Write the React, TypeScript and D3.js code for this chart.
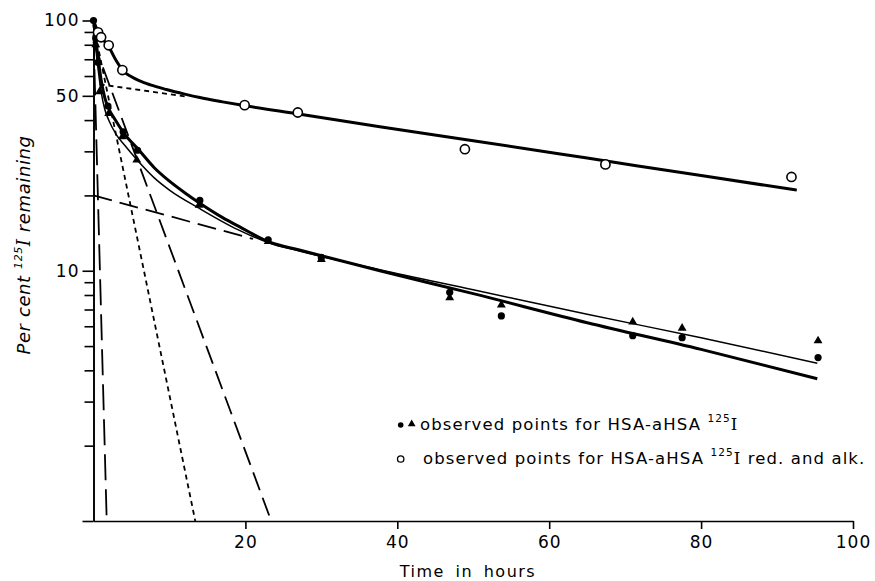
import React, { useEffect, useRef } from "react";
import * as d3 from "d3";

// Observed points: [hours, per cent remaining]
const dotPoints: [number, number][] = [
  [0, 100], [0.3, 85], [0.6, 68], [1.9, 45.5], [3.9, 35.9], [5.8, 30.3],
  [14, 19.1], [23, 13.3], [30, 11.3], [46.9, 8.2], [53.7, 6.6],
  [71, 5.5], [77.5, 5.4], [95.4, 4.5],
];
const trianglePoints: [number, number][] = [
  [0.3, 80], [0.8, 52], [2, 42.5], [3.8, 34.3], [5.7, 27.7], [13.9, 18.3],
  [23, 13.1], [30, 11.1], [46.9, 7.8], [53.7, 7.3], [71, 6.25],
  [77.5, 5.9], [95.4, 5.25],
];
const circlePoints: [number, number][] = [
  [0.6, 89.7], [1.0, 85.7], [2.0, 79.6], [3.8, 63.4], [19.9, 45.9],
  [26.9, 42.9], [48.9, 30.6], [67.4, 26.6], [91.9, 23.7],
];

// Fitted curves
const circleCurve: [number, number][] = [
  [0, 100], [0.6, 90], [1.2, 84.5], [2, 78.5], [3, 69], [4, 62.5], [5, 59.6],
  [6, 57.5], [7.5, 55.3], [9.6, 53.0], [12, 50.8], [14, 49.2], [17, 47.3],
  [20, 45.6], [27, 42.3], [37.7, 37.6], [50, 33.1], [65, 28.2], [80, 24.0],
  [92.6, 21.0],
];
const dotCurve: [number, number][] = [
  [0, 100], [0.5, 75], [1, 58], [1.5, 49], [2, 44.5], [3, 39.5], [4, 35.5],
  [6, 30.3], [8, 25.8], [10, 22.8], [12.1, 20.4], [14, 18.6], [17, 16.3],
  [19.2, 15], [23.2, 13.0], [27.1, 12.1], [37.7, 10], [50, 8.1], [65, 6.2],
  [80, 4.85], [95.3, 3.7],
];
const triangleCurve: [number, number][] = [
  [0, 95], [0.5, 68], [1, 52], [1.5, 44], [2, 40], [3, 35], [4, 32],
  [5.75, 27.7], [8, 23.5], [10, 21], [14, 17.7], [19, 14.6], [23.2, 12.9],
  [27.1, 12.0], [37.7, 10.1], [50, 8.4], [65, 6.7], [80, 5.4], [95.3, 4.27],
];

// Component lines (straight on the log scale)
const circleSlowLine: [number, number][] = [[0.8, 55.6], [12, 49.8]];
const circleFastLine: [number, number][] = [[0, 96], [13.4, 1]];
const dotSlowLine: [number, number][] = [[0, 20], [21, 13.4]];
const dotFastLine: [number, number][] = [[0, 82], [23.4, 1]];
const dotVeryFastLine: [number, number][] = [[0, 88], [1.74, 1]];

const xTicks = [20, 40, 60, 80, 100];
const yMajorTicks = [1, 10, 50, 100];
const yMinorTicks = [2, 3, 4, 5, 6, 7, 8, 9, 20, 30, 40, 60, 70, 80, 90];

const FONT = "'DejaVu Sans', sans-serif";

const App = () => {
  const svgRef = useRef<SVGSVGElement>(null);

  useEffect(() => {
    document.body.style.margin = "0";
    const svg = d3.select(svgRef.current);
    svg.selectAll("*").remove();

    const xScale = d3.scaleLinear().domain([0, 100]).range([93.5, 853]);
    const yScale = d3.scaleLog().domain([1, 100]).range([521, 20.5]);

    // y axis: minor ticks, then labelled ticks
    const yMinor = svg.append("g").attr("transform", `translate(${xScale(0)},0)`)
      .call(d3.axisLeft(yScale).tickValues(yMinorTicks).tickSize(9).tickSizeOuter(0).tickFormat(() => ""));
    const yMajor = svg.append("g").attr("transform", `translate(${xScale(0)},0)`)
      .call(
        d3.axisLeft(yScale).tickValues(yMajorTicks).tickSize(11).tickSizeOuter(0).tickPadding(3)
          .tickFormat((d) => (d === 1 ? "" : String(d)))
      );
    const xAxis = svg.append("g").attr("transform", `translate(0,${yScale(1)})`)
      .call(d3.axisBottom(xScale).tickValues(xTicks).tickSize(8).tickSizeOuter(0).tickPadding(7));

    [yMinor, yMajor, xAxis].forEach((g) => {
      g.selectAll("path, line").attr("stroke", "#000").attr("stroke-width", 1.6);
      g.selectAll("text").attr("font-family", FONT).attr("font-size", 17).attr("letter-spacing", 1).attr("fill", "#000");
    });

    const line = d3.line<[number, number]>().x((d) => xScale(d[0])).y((d) => yScale(d[1]));
    const smooth = d3.line<[number, number]>().x((d) => xScale(d[0])).y((d) => yScale(d[1])).curve(d3.curveMonotoneX);

    const plot = svg.append("g").attr("fill", "none").attr("stroke", "#000");

    // dashed component lines
    [circleSlowLine, circleFastLine].forEach((d) =>
      plot.append("path").attr("d", line(d)).attr("stroke-width", 1.8).attr("stroke-dasharray", "5,4")
    );
    plot.append("path").attr("d", line(dotSlowLine)).attr("stroke-width", 1.8).attr("stroke-dasharray", "19,8");
    plot.append("path").attr("d", line(dotFastLine)).attr("stroke-width", 1.8).attr("stroke-dasharray", "19,8");
    plot.append("path").attr("d", line(dotVeryFastLine)).attr("stroke-width", 1.8).attr("stroke-dasharray", "26,9");

    // fitted curves
    plot.append("path").attr("d", smooth(circleCurve)).attr("stroke-width", 3);
    plot.append("path").attr("d", smooth(dotCurve)).attr("stroke-width", 3);
    plot.append("path").attr("d", smooth(triangleCurve)).attr("stroke-width", 1.5);

    // markers
    const tri = d3.symbol().type(d3.symbolTriangle).size(34);
    svg.append("g").selectAll("path").data(trianglePoints).enter().append("path")
      .attr("d", tri).attr("transform", (d) => `translate(${xScale(d[0])},${yScale(d[1])})`).attr("fill", "#000");
    svg.append("g").selectAll("circle").data(dotPoints).enter().append("circle")
      .attr("cx", (d) => xScale(d[0])).attr("cy", (d) => yScale(d[1])).attr("r", 3.6).attr("fill", "#000");
    svg.append("g").selectAll("circle").data(circlePoints).enter().append("circle")
      .attr("cx", (d) => xScale(d[0])).attr("cy", (d) => yScale(d[1])).attr("r", 4.6)
      .attr("fill", "#fff").attr("stroke", "#000").attr("stroke-width", 1.6);

    // axis titles
    svg.append("text").attr("x", 468).attr("y", 577).attr("text-anchor", "middle")
      .attr("font-family", FONT).attr("font-size", 16).attr("letter-spacing", 1.5).attr("word-spacing", 4)
      .text("Time in hours");

    const yTitle = svg.append("text").attr("transform", "translate(30,245) rotate(-90)").attr("text-anchor", "middle")
      .attr("font-family", FONT).attr("font-size", 18).attr("font-style", "italic").attr("letter-spacing", 0.6);
    yTitle.append("tspan").text("Per cent ");
    yTitle.append("tspan").attr("font-size", 11).attr("dy", -8).text("125");
    yTitle.append("tspan").attr("dy", 8).attr("font-family", "'DejaVu Serif', serif").text("I");
    yTitle.append("tspan").text(" remaining");

    // legend
    const legend = svg.append("g").attr("font-family", FONT).attr("font-size", 16.5).attr("letter-spacing", 1.1);
    legend.append("circle").attr("cx", 400.7).attr("cy", 425).attr("r", 2.8).attr("fill", "#000");
    legend.append("path").attr("d", d3.symbol().type(d3.symbolTriangle).size(26)).attr("transform", "translate(411.7,424)");
    const row1 = legend.append("text").attr("x", 420).attr("y", 430);
    row1.append("tspan").text("observed points for HSA-aHSA ");
    row1.append("tspan").attr("font-size", 10.5).attr("dy", -8).text("125");
    row1.append("tspan").attr("dy", 8).attr("font-family", "'DejaVu Serif', serif").text("I");

    legend.append("circle").attr("cx", 400.7).attr("cy", 459).attr("r", 3.2)
      .attr("fill", "#fff").attr("stroke", "#000").attr("stroke-width", 1.3);
    const row2 = legend.append("text").attr("x", 423).attr("y", 464);
    row2.append("tspan").text("observed points for HSA-aHSA ");
    row2.append("tspan").attr("font-size", 10.5).attr("dy", -8).text("125");
    row2.append("tspan").attr("dy", 8).attr("font-family", "'DejaVu Serif', serif").text("I");
    row2.append("tspan").text(" red. and alk.");
  }, []);

  return <svg ref={svgRef} width={875} height={581} style={{ display: "block", background: "#fff" }} />;
};

export default App;
